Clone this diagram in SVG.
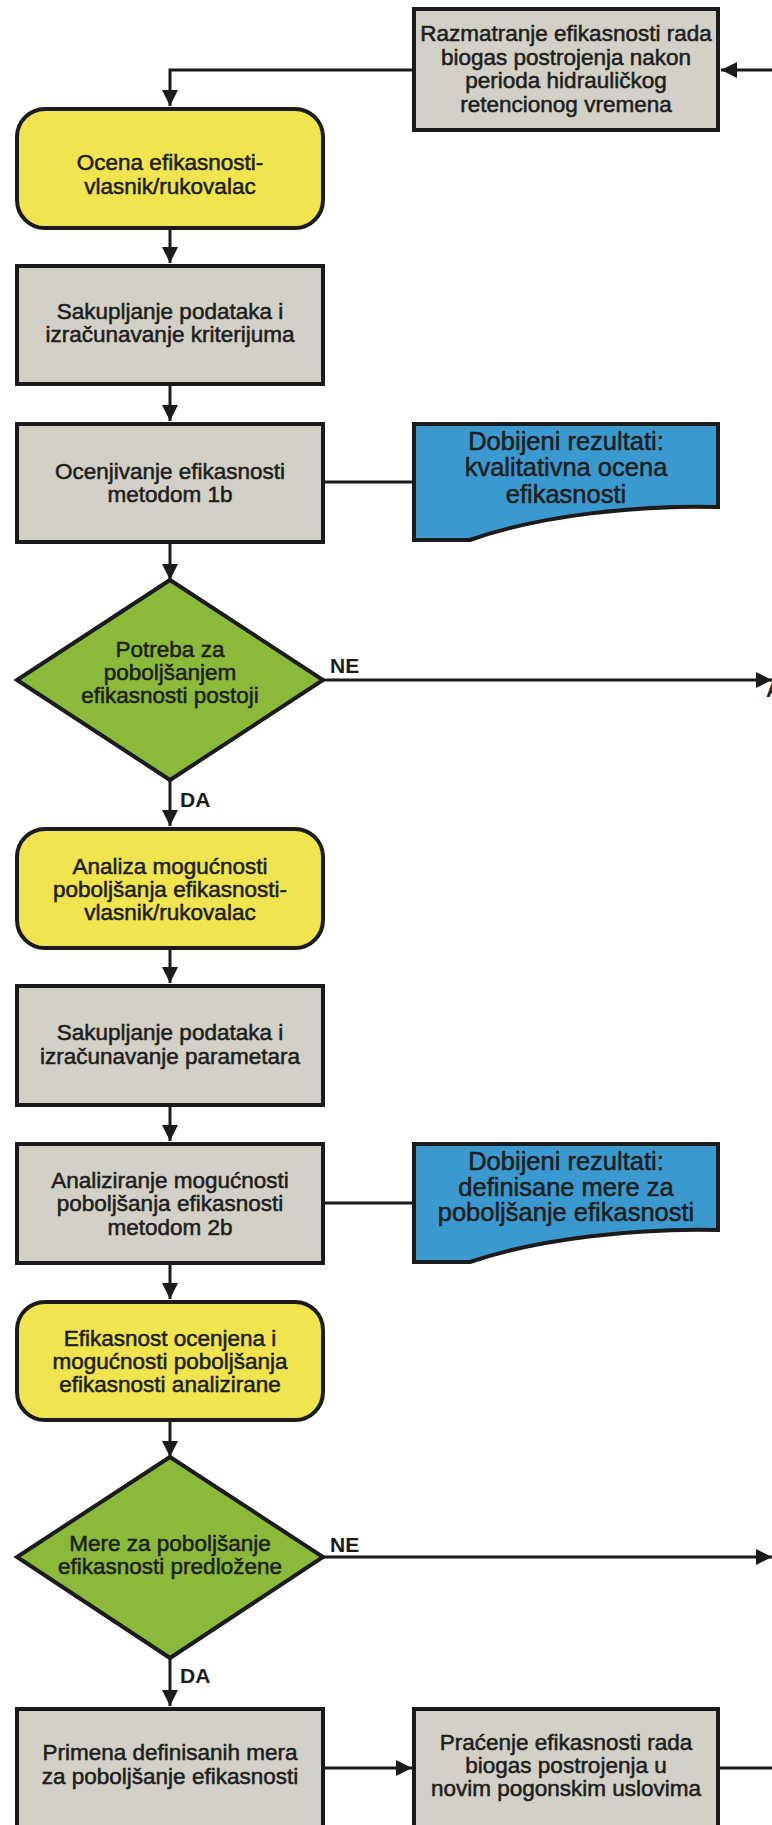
<svg xmlns="http://www.w3.org/2000/svg" width="772" height="1825" viewBox="0 0 772 1825">
  <style>
    .box { stroke: #1b1b1b; stroke-width: 4; stroke-linejoin: miter; }
    .proc { fill: #d3d1c7; }
    .term { fill: #f1e54f; }
    .dec { fill: #8bba3a; }
    .doc { fill: #3a9ad0; }
    .t { font-family: "Liberation Sans", Arial, sans-serif; font-size: 22.5px; fill: #1e1e1e; stroke: #1e1e1e; stroke-width: 0.55; text-anchor: middle; }
    .td { font-family: "Liberation Sans", Arial, sans-serif; font-size: 25.5px; fill: #1e1e1e; stroke: #1e1e1e; stroke-width: 0.55; text-anchor: middle; }
    .lbl { font-family: "Liberation Sans", Arial, sans-serif; font-size: 21px; font-weight: bold; fill: #1b1b1b; }
    .wire { fill: none; stroke: #1b1b1b; stroke-width: 3; }
    .arrow { marker-end: url(#head); }
  </style>
  <defs>
    <marker id="head" markerUnits="userSpaceOnUse" markerWidth="18" markerHeight="18" refX="16" refY="8" orient="auto">
      <path d="M0,0 L16,8 L0,16 Z" fill="#1b1b1b"/>
    </marker>
  </defs>

  <rect width="772" height="1825" fill="#ffffff"/>

  <!-- connectors -->
  <g id="connectors">
    <path class="wire arrow" d="M772,70 H721"/>
    <path class="wire arrow" d="M412,70 H170 V106"/>
    <path class="wire arrow" d="M170,230 V263"/>
    <path class="wire arrow" d="M170,386 V421"/>
    <path class="wire" d="M325,482 H412"/>
    <path class="wire arrow" d="M170,544 V580"/>
    <path class="wire arrow" d="M323,680 H772"/>
    <path class="wire arrow" d="M170,780 V826"/>
    <path class="wire arrow" d="M170,950 V983"/>
    <path class="wire arrow" d="M170,1107 V1141"/>
    <path class="wire" d="M325,1203 H412"/>
    <path class="wire arrow" d="M170,1265 V1299"/>
    <path class="wire arrow" d="M170,1422 V1457"/>
    <path class="wire arrow" d="M323,1557 H772"/>
    <path class="wire arrow" d="M170,1658 V1706"/>
    <path class="wire arrow" d="M325,1768 H412"/>
    <path class="wire" d="M720,1768 H772"/>
    <text class="lbl" x="330" y="673">NE</text>
    <text class="lbl" x="766" y="697">A</text>
    <text class="lbl" x="180" y="807">DA</text>
    <text class="lbl" x="330" y="1552">NE</text>
    <text class="lbl" x="180" y="1683">DA</text>
  </g>

  <!-- review after the hydraulic retention period -->
  <g id="razmatranje">
    <rect class="box proc" x="414" y="9" width="304" height="121"/>
    <text class="t" x="566" y="41">Razmatranje efikasnosti rada</text>
    <text class="t" x="566" y="65">biogas postrojenja nakon</text>
    <text class="t" x="566" y="88">perioda hidrauličkog</text>
    <text class="t" x="566" y="112">retencionog vremena</text>
  </g>

  <g id="ocena">
    <rect class="box term" x="17" y="109" width="306" height="119" rx="28" ry="28"/>
    <text class="t" x="170" y="170">Ocena efikasnosti-</text>
    <text class="t" x="170" y="194">vlasnik/rukovalac</text>
  </g>

  <g id="sakupljanje-kriterijuma">
    <rect class="box proc" x="17" y="266" width="306" height="118"/>
    <text class="t" x="170" y="319">Sakupljanje podataka i</text>
    <text class="t" x="170" y="342">izračunavanje kriterijuma</text>
  </g>

  <g id="ocenjivanje">
    <rect class="box proc" x="17" y="424" width="306" height="118"/>
    <text class="t" x="170" y="479">Ocenjivanje efikasnosti</text>
    <text class="t" x="170" y="502">metodom 1b</text>
  </g>

  <g id="rezultati-ocena">
    <path class="box doc" d="M414,424 H718 V507 C640,505 540,515 470,540 H414 Z"/>
    <text class="td" x="566" y="450">Dobijeni rezultati:</text>
    <text class="td" x="566" y="476">kvalitativna ocena</text>
    <text class="td" x="566" y="503">efikasnosti</text>
  </g>

  <g id="potreba">
    <polygon class="box dec" points="170,580 323,680 170,780 17,680"/>
    <text class="t" x="170" y="657">Potreba za</text>
    <text class="t" x="170" y="680">poboljšanjem</text>
    <text class="t" x="170" y="703">efikasnosti postoji</text>
  </g>

  <g id="analiza">
    <rect class="box term" x="17" y="829" width="306" height="119" rx="28" ry="28"/>
    <text class="t" x="170" y="874">Analiza mogućnosti</text>
    <text class="t" x="170" y="897">poboljšanja efikasnosti-</text>
    <text class="t" x="170" y="920">vlasnik/rukovalac</text>
  </g>

  <g id="sakupljanje-parametara">
    <rect class="box proc" x="17" y="986" width="306" height="119"/>
    <text class="t" x="170" y="1040">Sakupljanje podataka i</text>
    <text class="t" x="170" y="1064">izračunavanje parametara</text>
  </g>

  <g id="analiziranje">
    <rect class="box proc" x="17" y="1144" width="306" height="119"/>
    <text class="t" x="170" y="1188">Analiziranje mogućnosti</text>
    <text class="t" x="170" y="1211">poboljšanja efikasnosti</text>
    <text class="t" x="170" y="1235">metodom 2b</text>
  </g>

  <g id="rezultati-mere">
    <path class="box doc" d="M414,1144 H718 V1230 C640,1228 540,1238 470,1262 H414 Z"/>
    <text class="td" x="566" y="1170">Dobijeni rezultati:</text>
    <text class="td" x="566" y="1196">definisane mere za</text>
    <text class="td" x="566" y="1221">poboljšanje efikasnosti</text>
  </g>

  <g id="ocenjena">
    <rect class="box term" x="17" y="1302" width="306" height="118" rx="28" ry="28"/>
    <text class="t" x="170" y="1346">Efikasnost ocenjena i</text>
    <text class="t" x="170" y="1369">mogućnosti poboljšanja</text>
    <text class="t" x="170" y="1392">efikasnosti analizirane</text>
  </g>

  <g id="mere">
    <polygon class="box dec" points="170,1457 323,1557 170,1658 17,1557"/>
    <text class="t" x="170" y="1551">Mere za poboljšanje</text>
    <text class="t" x="170" y="1574">efikasnosti predložene</text>
  </g>

  <g id="primena">
    <rect class="box proc" x="17" y="1709" width="306" height="130"/>
    <text class="t" x="170" y="1760">Primena definisanih mera</text>
    <text class="t" x="170" y="1784">za poboljšanje efikasnosti</text>
  </g>

  <g id="pracenje">
    <rect class="box proc" x="414" y="1709" width="304" height="130"/>
    <text class="t" x="566" y="1750">Praćenje efikasnosti rada</text>
    <text class="t" x="566" y="1773">biogas postrojenja u</text>
    <text class="t" x="566" y="1796">novim pogonskim uslovima</text>
  </g>
</svg>
